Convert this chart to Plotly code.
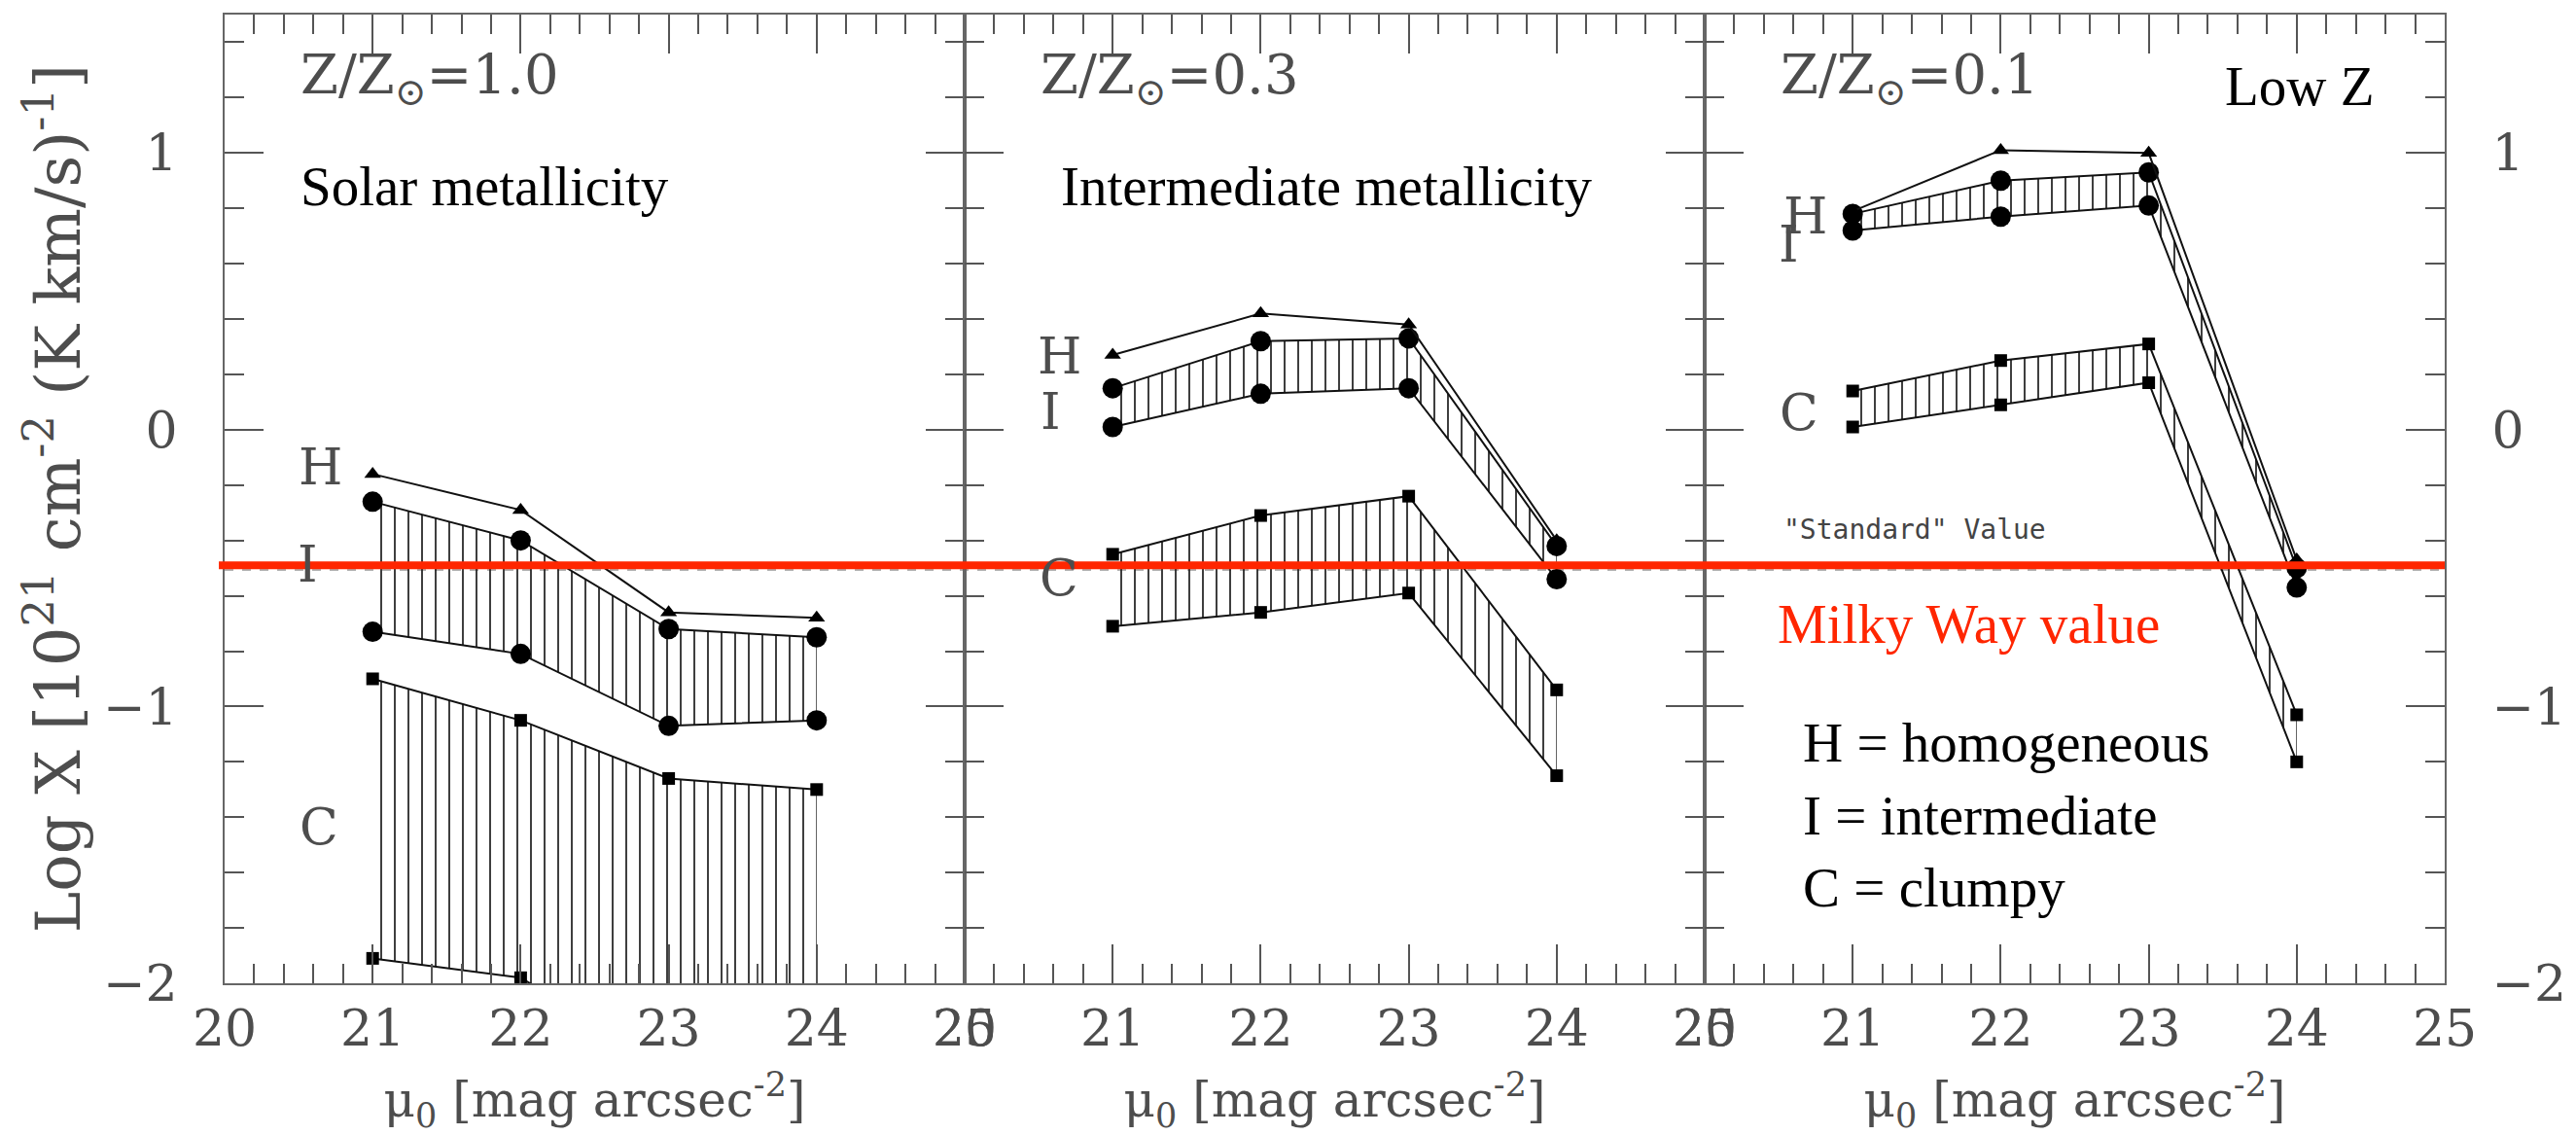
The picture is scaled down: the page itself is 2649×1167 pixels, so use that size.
import plotly.graph_objects as go
from plotly.subplots import make_subplots

# ---------------- data ----------------
mu = [21, 22, 23, 24]

panel_titles = ["Z/Z<sub>⊙</sub>=1.0", "Z/Z<sub>⊙</sub>=0.3", "Z/Z<sub>⊙</sub>=0.1"]

# Z/Zsun = 1.0
h_10 = [-0.16, -0.29, -0.66, -0.68]
i_top_10 = [-0.26, -0.40, -0.72, -0.75]
i_bot_10 = [-0.73, -0.81, -1.07, -1.05]
c_top_10 = [-0.90, -1.05, -1.26, -1.30]
c_bot_10 = [-1.91, -1.98, -2.30, -2.35]

# Z/Zsun = 0.3
h_03 = [0.27, 0.42, 0.38, -0.40]
i_top_03 = [0.15, 0.32, 0.33, -0.42]
i_bot_03 = [0.01, 0.13, 0.15, -0.54]
c_top_03 = [-0.45, -0.31, -0.24, -0.94]
c_bot_03 = [-0.71, -0.66, -0.59, -1.25]

# Z/Zsun = 0.1
h_01 = [0.79, 1.01, 1.00, -0.47]
i_top_01 = [0.78, 0.90, 0.93, -0.50]
i_bot_01 = [0.72, 0.77, 0.81, -0.57]
c_top_01 = [0.14, 0.25, 0.31, -1.03]
c_bot_01 = [0.01, 0.09, 0.17, -1.20]

milky_way_value = -0.49
standard_value = -0.505

x_ticks = [20, 21, 22, 23, 24, 25]
y_ticks = [-2, -1, 0, 1]

panels = [
    (h_10, i_top_10, i_bot_10, c_top_10, c_bot_10),
    (h_03, i_top_03, i_bot_03, c_top_03, c_bot_03),
    (h_01, i_top_01, i_bot_01, c_top_01, c_bot_01),
]

# ---------------- style ----------------
GRAY_TXT = "#4d4d4d"
AX_COL = "#666666"
TICK_COL = "#555555"
RED = "#ff2600"
PGFONT = "DejaVu Serif"
TIMES = "Liberation Serif"

hatch = dict(shape="|", size=14, solidity=0.12, fgcolor="#1a1a1a",
             bgcolor="rgba(0,0,0,0)", fillmode="replace")
line_style = dict(color="#111111", width=2)

fig = make_subplots(rows=1, cols=3, horizontal_spacing=0)

for k, (h, it, ib, ct, cb) in enumerate(panels):
    col = k + 1
    # intermediate band
    fig.add_trace(go.Scatter(x=mu, y=ib, mode="lines+markers", line=line_style,
                             marker=dict(symbol="circle", size=21, color="black"),
                             showlegend=False, hoverinfo="skip"), row=1, col=col)
    fig.add_trace(go.Scatter(x=mu, y=it, mode="lines+markers", line=line_style,
                             marker=dict(symbol="circle", size=21, color="black"),
                             fill="tonexty", fillcolor="rgba(0,0,0,0)", fillpattern=hatch,
                             showlegend=False, hoverinfo="skip"), row=1, col=col)
    # clumpy band
    fig.add_trace(go.Scatter(x=mu, y=cb, mode="lines+markers", line=line_style,
                             marker=dict(symbol="square", size=13, color="black"),
                             showlegend=False, hoverinfo="skip"), row=1, col=col)
    fig.add_trace(go.Scatter(x=mu, y=ct, mode="lines+markers", line=line_style,
                             marker=dict(symbol="square", size=13, color="black"),
                             fill="tonexty", fillcolor="rgba(0,0,0,0)", fillpattern=hatch,
                             showlegend=False, hoverinfo="skip"), row=1, col=col)
    # homogeneous
    fig.add_trace(go.Scatter(x=mu, y=h, mode="lines+markers", line=line_style,
                             marker=dict(symbol="triangle-up", size=15, color="black"),
                             showlegend=False, hoverinfo="skip"), row=1, col=col)

tickfont = dict(family=PGFONT, size=52, color=GRAY_TXT)
for k in range(3):
    col = k + 1
    fig.update_xaxes(
        range=[20, 25], tickvals=x_ticks, ticktext=[str(v) for v in x_ticks],
        ticks="inside", ticklen=40, tickwidth=2, tickcolor=TICK_COL,
        minor=dict(dtick=0.2, tick0=20, ticks="inside", ticklen=20, tickwidth=2, tickcolor=TICK_COL),
        showline=True, linecolor=AX_COL, linewidth=2, mirror="allticks",
        showgrid=False, zeroline=False, tickfont=tickfont, ticklabelstandoff=0,
        automargin=False,
        title=dict(text="μ<sub>0</sub> [mag arcsec<sup>-2</sup>]",
                   font=dict(family=PGFONT, size=50, color=GRAY_TXT), standoff=42),
        row=1, col=col)
    fig.update_yaxes(
        range=[-2, 1.5], tickvals=y_ticks, ticktext=["−2", "−1", "0", "1"],
        ticks="inside", ticklen=40, tickwidth=2, tickcolor=TICK_COL,
        minor=dict(dtick=0.2, tick0=0, ticks="inside", ticklen=20, tickwidth=2, tickcolor=TICK_COL),
        showline=True, linecolor=AX_COL, linewidth=2, mirror="allticks",
        showgrid=False, zeroline=False, tickfont=tickfont,
        showticklabels=(k != 1), side=("right" if k == 2 else "left"),
        ticklabelstandoff=36, automargin=False,
        row=1, col=col)

# y-axis title
fig.add_annotation(text="Log X [10<sup>21</sup> cm<sup>-2</sup> (K km/s)<sup>-1</sup>]",
                   xref="paper", yref="paper", x=-0.077, y=0.5, textangle=-90,
                   showarrow=False, xanchor="center", yanchor="middle",
                   font=dict(family=PGFONT, size=64, color=GRAY_TXT))

# reference lines
fig.add_shape(type="line", xref="paper", yref="y", x0=0, x1=1,
              y0=standard_value, y1=standard_value,
              line=dict(color="#b0b0b0", width=3, dash="dash"), layer="below")
fig.add_shape(type="line", xref="paper", yref="y", x0=-0.0026, x1=1,
              y0=milky_way_value, y1=milky_way_value,
              line=dict(color=RED, width=8), layer="above")

# panel labels
axn = ["x", "x2", "x3"]
for k in range(3):
    fig.add_annotation(text=panel_titles[k], xref=axn[k], yref="y", x=20.5, y=1.27,
                       showarrow=False, xanchor="left", yanchor="middle",
                       font=dict(family=PGFONT, size=56, color=GRAY_TXT))

# H / I / C labels
hic_labels = [
    [("H", 20.65, -0.135), ("I", 20.56, -0.485), ("C", 20.64, -1.435)],
    [("H", 20.64, 0.267), ("I", 20.58, 0.066), ("C", 20.64, -0.535)],
    [("H", 20.68, 0.773), ("I", 20.57, 0.67), ("C", 20.64, 0.063)],
]
for k in range(3):
    for txt, xv, yv in hic_labels[k]:
        fig.add_annotation(text=txt, xref=axn[k], yref="y", x=xv, y=yv,
                           showarrow=False, xanchor="center", yanchor="middle",
                           font=dict(family=PGFONT, size=52, color=GRAY_TXT))

# black overlay texts
def black_text(txt, xr, xv, yv, color="black", size=57):
    fig.add_annotation(text=txt, xref=xr, yref="y", x=xv, y=yv, showarrow=False,
                       xanchor="left", yanchor="middle",
                       font=dict(family=TIMES, size=size, color=color))

black_text("Solar metallicity", "x", 20.5, 0.88)
black_text("Intermediate metallicity", "x2", 20.64, 0.88)
black_text("Low Z", "x3", 23.5, 1.24)
black_text("Milky Way value", "x3", 20.48, -0.70, color=RED)
black_text("H = homogeneous", "x3", 20.65, -1.13)
black_text("I = intermediate", "x3", 20.65, -1.395)
black_text("C = clumpy", "x3", 20.65, -1.655)

fig.add_annotation(text='"Standard" Value', xref="x3", yref="y", x=20.52, y=-0.36,
                   showarrow=False, xanchor="left", yanchor="middle",
                   font=dict(family="DejaVu Sans Mono", size=28, color="#444444"))

fig.update_layout(width=2649, height=1167,
                  margin=dict(l=231, r=135, t=15, b=156),
                  plot_bgcolor="white", paper_bgcolor="white",
                  showlegend=False)

fig.write_html("out.html")
